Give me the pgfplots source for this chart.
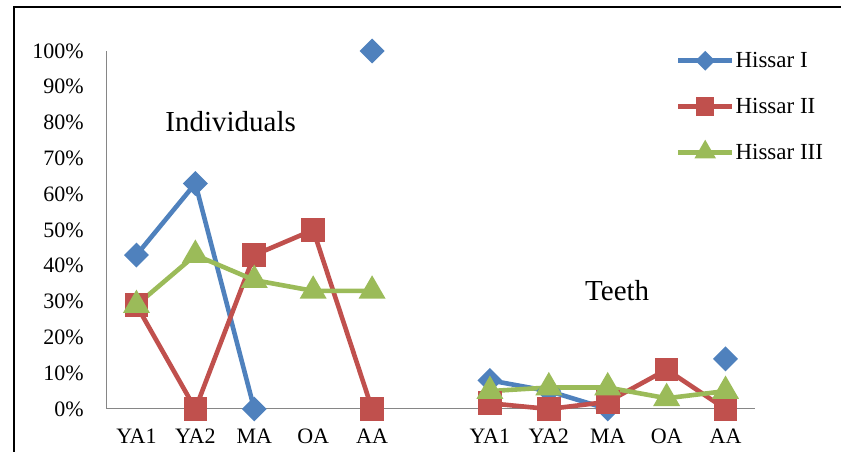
\documentclass[border=0pt]{standalone}
\usepackage{pgfplots}
\pgfplotsset{compat=1.18}
\usepackage{fontspec}
\setmainfont{Liberation Serif}

\definecolor{hblue}{HTML}{4F81BD}
\definecolor{hred}{HTML}{C0504D}
\definecolor{hgreen}{HTML}{9BBB59}
\definecolor{axgray}{HTML}{868686}

\begin{document}
\begin{tikzpicture}
\begin{axis}[
    scale only axis,
    width=648pt, height=358pt,
    xmin=-0.5, xmax=10.5, ymin=0, ymax=100,
    clip=false,
    axis x line*=bottom, axis y line*=left,
    axis line style={axgray, line width=1pt},
    major tick length=0pt,
    xtick={0,1,2,3,4,6,7,8,9,10},
    xticklabels={YA1,YA2,MA,OA,AA,YA1,YA2,MA,OA,AA},
    ytick={0,10,...,100},
    yticklabels={0\%,10\%,20\%,30\%,40\%,50\%,60\%,70\%,80\%,90\%,100\%},
    tick label style={font=\fontsize{22}{26}\selectfont, inner sep=0pt},
    y tick label style={anchor=east, xshift=-23pt},
    x tick label style={anchor=north, yshift=-20pt},
    unbounded coords=jump,
    every axis plot/.append style={line width=4.6pt},
    legend style={at={(0.873,1.005)}, anchor=north west, draw=none, fill=none,
        font=\fontsize{23}{27}\selectfont, row sep=27pt,
        nodes={inner sep=1pt, anchor=west}},
    legend cell align=left,
    legend image code/.code={
        \draw[mark repeat=2, mark phase=2, every mark/.append style={scale=0.72}]
            plot coordinates {(0pt,0pt) (27pt,0pt) (54pt,0pt)};
    },
]
\addplot[hblue, mark=square*, mark options={rotate=45, mark size=6.5pt, solid}]
    coordinates {(0,43) (1,63) (2,0) (3,nan) (4,100) (5,nan) (6,8) (7,5) (8,0) (9,nan) (10,14)};
\addlegendentry{Hissar I}
\addplot[hred, mark=square*, mark options={mark size=9.5pt, solid}]
    coordinates {(0,29) (1,0) (2,43) (3,50) (4,0) (5,nan) (6,1.6) (7,0) (8,2) (9,11) (10,0)};
\addlegendentry{Hissar II}
\addplot[hgreen, mark=triangle*, mark options={mark size=11pt, solid}]
    coordinates {(0,29) (1,43) (2,36) (3,33) (4,33) (5,nan) (6,5) (7,6) (8,6) (9,3) (10,5)};
\addlegendentry{Hissar III}
\node[font=\fontsize{29}{34}\selectfont] at (axis cs:1.6,80.2) {Individuals};
\node[font=\fontsize{29}{34}\selectfont] at (axis cs:8.16,33.2) {Teeth};
\end{axis}
\draw[black, line width=1.5pt] (-93pt,-43pt) -- (-93pt,402pt) -- (734pt,402pt);
\pgfresetboundingbox
\useasboundingbox (-107pt,-43pt) rectangle (734pt,409pt);
\end{tikzpicture}
\end{document}
